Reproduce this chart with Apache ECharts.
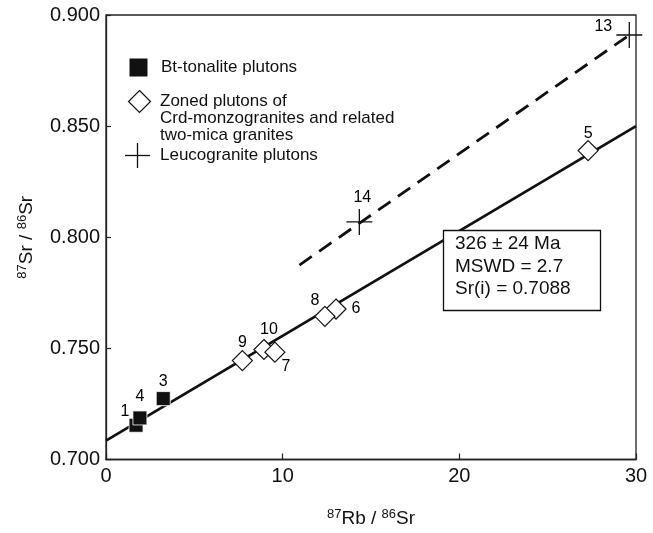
<!DOCTYPE html>
<html><head><meta charset="utf-8">
<script src="https://cdn.jsdelivr.net/npm/echarts@6/dist/echarts.min.js"></script>
<style>html,body{margin:0;padding:0;background:#fff}#c{width:653px;height:533px}</style>
</head><body><div id="c"></div>
<script>
const xTicks = [0, 10, 20, 30];
const yTicks = [0.700, 0.750, 0.800, 0.850, 0.900];
const tonaliteIds = ['1', '4', '3'];
const tonaliteRb = [1.70, 1.92, 3.24];
const tonaliteSr = [0.7154, 0.7187, 0.7274];
const zonedIds = ['10', '7', '9', '6', '8', '5'];
const zonedRb = [8.94, 9.56, 7.72, 13.02, 12.39, 27.29];
const zonedSr = [0.7495, 0.7483, 0.7445, 0.7677, 0.7644, 0.8390];
const leucoIds = ['14', '13'];
const leucoRb = [14.34, 29.62];
const leucoSr = [0.8069, 0.8910];
const isochronRb = [0, 30];
const isochronSr = [0.7085, 0.8500];
const leucoLineRb = [10.95, 29.62];
const leucoLineSr = [0.7875, 0.8910];
const boxLines = ['326 \u00b1 24 Ma', 'MSWD = 2.7', 'Sr(i) = 0.7088'];
const legendNames = ['Bt-tonalite plutons', 'Zoned plutons of\nCrd-monzogranites and related\ntwo-mica granites', 'Leucogranite plutons'];

const FONT = "'Liberation Sans', Arial, Helvetica, sans-serif";
const labelOffsets = {
  '1': [-11, -14], '4': [0, -21], '3': [0, -17], '9': [0, -18], '10': [5, -20],
  '7': [11, 14], '8': [-10, -16], '6': [20, 0], '5': [0, -17], '13': [-26, -8], '14': [3, -24]
};
function pts(ids, xs, ys) {
  return ids.map((id, i) => ({
    value: [xs[i], ys[i]], name: id,
    label: { offset: labelOffsets[id] }
  }));
}
const ptLabel = { show: true, position: 'inside', formatter: p => p.name, color: '#000', fontSize: 16, fontFamily: FONT };

const chart = echarts.init(document.getElementById('c'), null, { renderer: 'canvas' });
chart.setOption({
  animation: false,
  backgroundColor: '#fff',
  grid: { left: 106, right: 17, top: 15, bottom: 72, show: true, borderColor: '#222', borderWidth: 1.3, backgroundColor: 'transparent' },
  xAxis: {
    type: 'value', min: xTicks[0], max: xTicks[xTicks.length - 1], interval: 10,
    axisLine: { lineStyle: { color: '#222', width: 1.3 } },
    axisTick: { inside: true, length: 6, lineStyle: { color: '#222', width: 1.2 } },
    splitLine: { show: false },
    axisLabel: { color: '#111', fontSize: 20, fontFamily: FONT, margin: 7 },
    name: '{sup|87}{m|Rb / }{sup|86}{m|Sr}', nameLocation: 'middle', nameGap: 48,
    nameTextStyle: { color: '#111', fontFamily: FONT, rich: {
      sup: { fontSize: 13, fontFamily: FONT, color: '#111', padding: [0, 0, 9, 0] },
      m: { fontSize: 19, fontFamily: FONT, color: '#111' } } }
  },
  yAxis: {
    type: 'value', min: yTicks[0], max: yTicks[yTicks.length - 1], interval: 0.05,
    axisLine: { lineStyle: { color: '#222', width: 1.3 } },
    axisTick: { inside: true, length: 5, lineStyle: { color: '#222', width: 1.2 } },
    splitLine: { show: false },
    axisLabel: { color: '#111', fontSize: 20, fontFamily: FONT, margin: 6, formatter: v => v.toFixed(3) },
    name: '{sup|87}{m|Sr / }{sup|86}{m|Sr}', nameLocation: 'middle', nameGap: 68, nameRotate: 90,
    nameTextStyle: { color: '#111', fontFamily: FONT, rich: {
      sup: { fontSize: 13, fontFamily: FONT, color: '#111', padding: [0, 0, 9, 0] },
      m: { fontSize: 19, fontFamily: FONT, color: '#111' } } }
  },
  series: [
    { type: 'line', data: isochronRb.map((x, i) => [x, isochronSr[i]]), symbol: 'none', z: 1,
      lineStyle: { color: '#111', width: 2.8 } },
    { type: 'line', data: leucoLineRb.map((x, i) => [x, leucoLineSr[i]]), symbol: 'none', z: 1,
      lineStyle: { color: '#111', width: 2.8, type: [15, 9] } },
    { type: 'scatter', name: legendNames[0], data: pts(tonaliteIds, tonaliteRb, tonaliteSr), symbol: 'rect', symbolSize: 14, z: 3,
      itemStyle: { color: '#111', borderColor: '#fff', borderWidth: 0.8, opacity: 1 }, label: ptLabel },
    { type: 'scatter', name: legendNames[1], data: pts(zonedIds, zonedRb, zonedSr), symbol: 'diamond', symbolSize: [20, 20], z: 3,
      itemStyle: { color: '#fff', borderColor: '#111', borderWidth: 1.2, opacity: 1 }, label: ptLabel },
    { type: 'scatter', name: legendNames[2], data: pts(leucoIds, leucoRb, leucoSr), symbol: 'path://M0,-10 L0,10 M-10,0 L10,0', symbolSize: 26, z: 3,
      itemStyle: { color: 'none', borderColor: '#111', borderWidth: 1.3, opacity: 1 }, label: ptLabel }
  ],
  graphic: [
    { type: 'rect', shape: { x: 129.5, y: 58.5, width: 18, height: 18 }, style: { fill: '#111' } },
    { type: 'text', style: { text: legendNames[0], x: 161, y: 67.5, fill: '#111', font: '17px ' + FONT, verticalAlign: 'middle' } },
    { type: 'polygon', shape: { points: [[139.5, 90.5], [150.5, 101.5], [139.5, 112.5], [128.5, 101.5]] }, style: { fill: '#fff', stroke: '#111', lineWidth: 1.2 } },
    { type: 'text', style: { text: legendNames[1], x: 160, y: 93, fill: '#111', font: '17px ' + FONT, lineHeight: 17, verticalAlign: 'top' } },
    { type: 'polyline', shape: { points: [[125, 155.5], [150, 155.5]] }, style: { stroke: '#111', lineWidth: 1.3 } },
    { type: 'polyline', shape: { points: [[137.5, 143], [137.5, 168]] }, style: { stroke: '#111', lineWidth: 1.3 } },
    { type: 'text', style: { text: legendNames[2], x: 160, y: 155.5, fill: '#111', font: '17px ' + FONT, verticalAlign: 'middle' } },
    { type: 'rect', z: 10, shape: { x: 443.5, y: 230.5, width: 157, height: 80 }, style: { fill: '#fff', stroke: '#111', lineWidth: 1.3 } },
    { type: 'text', z: 11, style: { text: boxLines.join('\n'), x: 455, y: 233, fill: '#111', font: '19px ' + FONT, lineHeight: 22.2, verticalAlign: 'top' } }
  ]
});
</script>
</body></html>
